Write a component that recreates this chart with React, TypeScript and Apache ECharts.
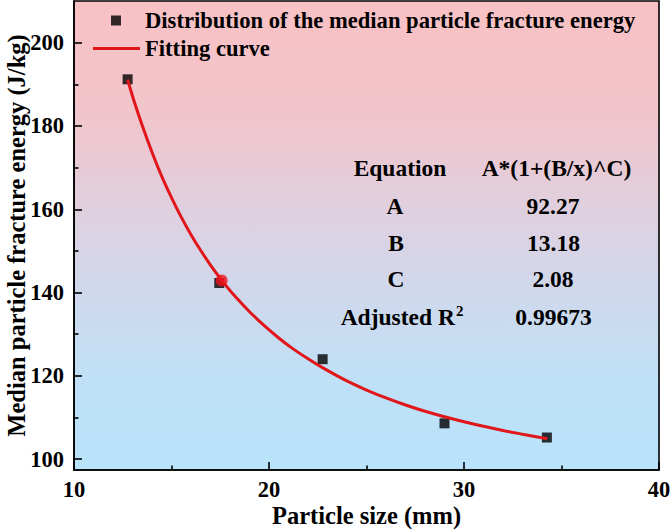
import React, { useEffect, useRef } from "react";
import * as echarts from "echarts";

const sizes = [12.75, 17.45, 22.75, 29.0, 34.25];
const energies = [191.2, 142.3, 124.0, 108.6, 105.2];
const highlightX = [17.57];
const highlightY = [142.9];
const curveX = [12.75, 13.1, 13.5, 14.0, 14.5, 15.0, 15.5, 16.0, 16.5, 17.0, 17.57, 18.2, 19.0, 19.7, 20.5, 21.2, 22.0, 22.7, 23.5, 24.2, 25.0, 26.0, 27.0, 28.0, 29.0, 30.0, 31.0, 32.0, 33.0, 34.27];
const curveY = [191.1, 185.7, 180.1, 173.7, 167.9, 162.8, 158.1, 153.9, 150.1, 146.6, 143.0, 139.4, 135.4, 132.3, 129.1, 126.6, 124.1, 122.1, 120.0, 118.3, 116.6, 114.7, 113.0, 111.5, 110.2, 109.0, 107.9, 106.9, 106.0, 104.9];
const yMajorTicks = [100, 120, 140, 160, 180, 200];
const yMinorTicks = [110, 130, 150, 170, 190];
const tableLeft = ["Equation", "A", "B", "C", "Adjusted R"];
const tableRight = ["A*(1+(B/x)^C)", "92.27", "13.18", "2.08", "0.99673"];
const seriesNames = ["Distribution of the median particle fracture energy", "Fitting curve"];

const FONT = "Liberation Serif";

export default function App() {
  const ref = useRef<HTMLDivElement>(null);
  useEffect(() => {
    document.body.style.margin = "0";
    if (!ref.current) return;
    const chart = echarts.init(ref.current, undefined, { renderer: "svg" });
    const rowY = [168, 206, 242.5, 279, 317];
    const leftX = [400, 395, 396, 396, 402];
    const rightX = [556.5, 553, 553.5, 553, 553.5];
    const TS = 23.5;
    const tableGraphics: any[] = [];
    tableLeft.forEach((t, i) => {
      const isR = i === tableLeft.length - 1;
      tableGraphics.push({
        type: "text",
        x: leftX[i],
        y: rowY[i],
        style: {
          text: isR ? "{m|" + t + "}{s|2}" : t,
          fontSize: TS,
          fontWeight: "bold",
          fontFamily: FONT,
          fill: "#000",
          align: "center",
          verticalAlign: "middle",
          rich: isR
            ? {
                m: { fontSize: TS, fontWeight: "bold", fontFamily: FONT, fill: "#000" },
                s: { fontSize: 15, fontWeight: "bold", fontFamily: FONT, fill: "#000", verticalAlign: "top", padding: [0, 0, 12, 1] },
              }
            : undefined,
        },
      });
      tableGraphics.push({
        type: "text",
        x: rightX[i],
        y: rowY[i],
        style: {
          text: tableRight[i],
          fontSize: TS,
          fontWeight: "bold",
          fontFamily: FONT,
          fill: "#000",
          align: "center",
          verticalAlign: "middle",
        },
      });
    });

    const labelStyle = { color: "#000", fontSize: 22.5, fontWeight: "bold", fontFamily: FONT };
    const titleStyle = { color: "#000", fontSize: 24.5, fontWeight: "bold", fontFamily: FONT };
    chart.setOption({
      animation: false,
      textStyle: { fontFamily: FONT },
      grid: {
        left: 74,
        right: 11,
        top: 1,
        bottom: 61,
        outerBoundsMode: "none",
        containLabel: false,
        show: true,
        borderColor: "#000",
        borderWidth: 1.6,
        backgroundColor: {
          type: "linear",
          x: 0,
          y: 0,
          x2: 0,
          y2: 1,
          colorStops: [
            { offset: 0, color: "#F9C1C4" },
            { offset: 0.25, color: "#F1C5CC" },
            { offset: 0.55, color: "#D6D5E8" },
            { offset: 0.8, color: "#C0E0F6" },
            { offset: 1, color: "#B8E3FA" },
          ],
        },
      },
      legend: [
        {
          data: [{ name: seriesNames[0], icon: "rect" }],
          left: 111,
          top: 9,
          padding: 0,
          itemWidth: 10,
          itemHeight: 10,
          textStyle: { color: "#000", fontSize: 22.6, fontWeight: "bold", fontFamily: FONT, padding: [0, 0, 0, 19] },
        },
        {
          data: [{ name: seriesNames[1], icon: "rect" }],
          left: 93,
          top: 37,
          padding: 0,
          itemWidth: 47,
          itemHeight: 3,
          textStyle: { color: "#000", fontSize: 22.6, fontWeight: "bold", fontFamily: FONT },
        },
      ],
      xAxis: {
        type: "value",
        min: 10,
        max: 40,
        interval: 10,
        name: "Particle size (mm)",
        nameLocation: "middle",
        nameGap: 33,
        nameMoveOverlap: false,
        nameTextStyle: titleStyle,
        axisLine: { show: true, lineStyle: { color: "#000", width: 1.6 } },
        axisTick: { show: true, inside: true, length: 8, lineStyle: { color: "#000", width: 1.6 } },
        minorTick: { show: true, splitNumber: 2, length: 4.5, lineStyle: { color: "#000", width: 1.6 } },
        axisLabel: { ...labelStyle, margin: 8 },
        splitLine: { show: false },
      },
      yAxis: [
        {
          type: "value",
          min: 97.4,
          max: 210,
          name: "Median particle fracture energy (J/kg)",
          nameLocation: "middle",
          nameGap: 45,
          nameMoveOverlap: false,
          nameTextStyle: titleStyle,
          axisLine: { show: true, lineStyle: { color: "#000", width: 1.6 } },
          axisTick: { show: true, inside: true, length: 8, customValues: yMajorTicks, lineStyle: { color: "#000", width: 1.6 } },
          axisLabel: { ...labelStyle, margin: 10, customValues: yMajorTicks },
          splitLine: { show: false },
        },
        {
          type: "value",
          min: 97.4,
          max: 210,
          position: "left",
          axisLine: { show: false },
          axisTick: { show: true, inside: true, length: 4.5, customValues: yMinorTicks, lineStyle: { color: "#000", width: 1.6 } },
          axisLabel: { show: false, customValues: yMinorTicks },
          splitLine: { show: false },
        },
      ],
      series: [
        {
          name: seriesNames[1],
          type: "line",
          data: curveX.map((x, i) => [x, curveY[i]]),
          smooth: 0.4,
          showSymbol: false,
          symbol: "none",
          lineStyle: { color: "#E0161B", width: 3 },
          itemStyle: { color: "#E0161B" },
          z: 3,
        },
        {
          name: seriesNames[0],
          type: "scatter",
          data: sizes.map((x, i) => [x, energies[i]]),
          symbol: "rect",
          symbolSize: 10,
          itemStyle: { color: "#000" },
          z: 2,
        },
        {
          name: "highlight",
          type: "scatter",
          data: highlightX.map((x, i) => [x, highlightY[i]]),
          symbol: "circle",
          symbolSize: 12,
          itemStyle: { color: "#F0101A" },
          z: 4,
        },
      ],
      graphic: tableGraphics,
    });
    return () => chart.dispose();
  }, []);
  return <div ref={ref} style={{ width: 670, height: 531 }} />;
}
